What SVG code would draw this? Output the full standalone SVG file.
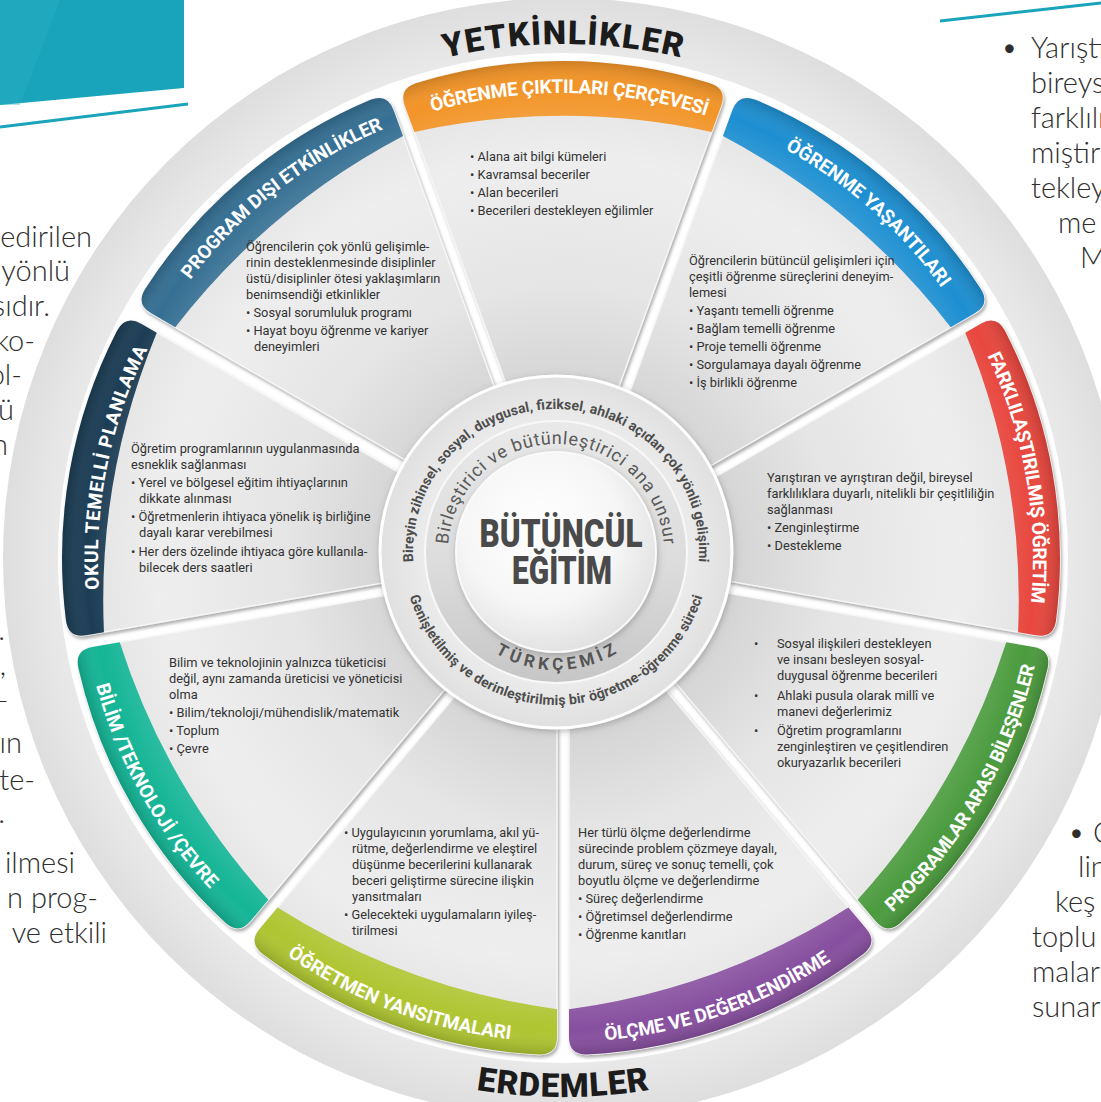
<svg xmlns="http://www.w3.org/2000/svg" xmlns:xlink="http://www.w3.org/1999/xlink" width="1101" height="1102" viewBox="0 0 1101 1102">
<defs>
<style>
.body{font-family:Roboto,"Liberation Sans",sans-serif;font-size:12.8px;fill:#333333}
.hdr{font-family:Roboto,"Liberation Sans",sans-serif;font-weight:700;font-size:19px;fill:#ffffff}
.rim{font-family:Roboto,"Liberation Sans",sans-serif;font-weight:900;font-size:33px;fill:#1c1c1c}
.hubb{font-family:Roboto,"Liberation Sans",sans-serif;font-weight:700;font-size:14px;fill:#4d4d4d}
.hubr{font-family:Roboto,"Liberation Sans",sans-serif;font-size:18px;fill:#5a5a5a}
.turk{font-family:Roboto,"Liberation Sans",sans-serif;font-weight:700;font-size:17px;fill:#555555}
.center{font-family:Roboto,"Liberation Sans",sans-serif;font-weight:900;font-size:38px;fill:#4a4a4a}
.page{font-family:Lato,"Open Sans","Liberation Sans",sans-serif;font-weight:300;font-size:29px;fill:#2e2e2e}
.teal{fill:#19a4bb}
.card{fill:url(#cardG);stroke:#f6f6f6;stroke-width:1.5}
</style>
<filter id="sh" x="-10%" y="-10%" width="125%" height="125%"><feDropShadow dx="1.5" dy="2.5" stdDeviation="1.8" flood-color="#6e6e6e" flood-opacity="0.55"/></filter>
<filter id="hubsh" x="-20%" y="-20%" width="140%" height="140%"><feDropShadow dx="1" dy="2" stdDeviation="3" flood-color="#777" flood-opacity="0.5"/></filter>
<radialGradient id="discG" cx="563" cy="558" r="560" gradientUnits="userSpaceOnUse"><stop offset="0.9" stop-color="#e9e9e9"/><stop offset="1" stop-color="#dedede"/></radialGradient>
<radialGradient id="cardG" cx="0" cy="0" r="497" gradientUnits="userSpaceOnUse"><stop offset="0.33" stop-color="#d3d3d3"/><stop offset="0.55" stop-color="#e5e5e5"/><stop offset="0.8" stop-color="#eeeeee"/><stop offset="0.95" stop-color="#e4e4e4"/></radialGradient>
<radialGradient id="bandSh" cx="0" cy="0" r="497" gradientUnits="userSpaceOnUse"><stop offset="0.88" stop-color="#fff" stop-opacity="0.12"/><stop offset="0.95" stop-color="#fff" stop-opacity="0"/><stop offset="1" stop-color="#000" stop-opacity="0.15"/></radialGradient>
<radialGradient id="hubO" cx="556" cy="552" r="176" gradientUnits="userSpaceOnUse"><stop offset="0.7" stop-color="#ededed"/><stop offset="1" stop-color="#e0e0e0"/></radialGradient>
<linearGradient id="hubM" x1="0" y1="0" x2="0" y2="1"><stop offset="0" stop-color="#e9e9e9"/><stop offset="0.55" stop-color="#dcdcdc"/><stop offset="1" stop-color="#c6c6c6"/></linearGradient>
<radialGradient id="hubC" cx="0.42" cy="0.38" r="0.65"><stop offset="0" stop-color="#ffffff"/><stop offset="0.6" stop-color="#f6f6f6"/><stop offset="1" stop-color="#e0e0e0"/></radialGradient>
<path id="cardShape" d="M-50.76,-157 L-158.18,-452.12 Q-164.33,-469.04 -147.1,-474.7 A497,497 0 0 1 147.1,-474.7 Q164.33,-469.04 158.18,-452.12 L50.76,-157 A165,165 0 0 0 -50.76,-157 Z"/>
<path id="band" d="M-148.68,-426.03 L-158.18,-452.12 Q-164.33,-469.04 -147.1,-474.7 A497,497 0 0 1 147.1,-474.7 Q164.33,-469.04 158.18,-452.12 L148.68,-426.03 A700,700 0 0 0 -148.68,-426.03 Z"/>
<path id="bandS" d="M-152.05,-435.28 L-158.18,-452.12 Q-164.33,-469.04 -147.1,-474.7 A497,497 0 0 1 147.1,-474.7 Q164.33,-469.04 158.18,-452.12 L152.05,-435.28 A700,700 0 0 0 -152.05,-435.28 Z"/>
<path id="cwH" d="M-196.52,-421.43 A465,465 0 0 1 196.52,-421.43"/>
<path id="cwH2" d="M-198.63,-425.97 A470,470 0 0 1 198.63,-425.97"/>
<path id="ccwH" d="M-204.55,438.65 A484,484 0 0 0 204.55,438.65"/>
<path id="yetP" d="M387.2,75 A514,514 0 0 1 738.8,75"/>
<path id="erdP" d="M423.5,1078.6 A539,539 0 0 0 702.5,1078.6"/>
<path id="hubTop" d="M415.17,576.83 A143,143 0 1 1 696.83,576.83"/>
<path id="hubBot" d="M406.34,583.81 A153,153 0 0 0 705.66,583.81"/>
<path id="innTop" d="M449.64,570.75 A108,108 0 1 1 662.36,570.75"/>
<path id="turkP" d="M472.56,635.44 A118,118 0 0 0 639.44,635.44"/>
</defs>

<rect width="1101" height="1102" fill="#ffffff"/>

<g id="page">
<polygon class="teal" points="0,0 184,0 184,88 0,105"/>
<polygon points="0,0 60,0 20,105 0,105" fill="#2fb3c6" opacity="0.35"/>
<line x1="0" y1="127" x2="188" y2="104" stroke="#19a4bb" stroke-width="3"/>
<line x1="940" y1="21" x2="1101" y2="3" stroke="#19a4bb" stroke-width="3"/>
<g text-anchor="end">
<text class="page" x="92" y="247">edirilen</text>
<text class="page" x="70" y="281">yönlü</text>
<text class="page" x="50" y="316">sıdır.</text>
<text class="page" x="35" y="351">ko-</text>
<text class="page" x="22" y="385">ol-</text>
<text class="page" x="14" y="420">ü</text>
<text class="page" x="8" y="455">n</text>
<text class="page" x="5" y="640">.</text>
<text class="page" x="6" y="675">,</text>
<text class="page" x="9" y="710">–</text>
<text class="page" x="22" y="753">ın</text>
<text class="page" x="35" y="790">te-</text>
<text class="page" x="5" y="823">.</text>
<text class="page" x="75" y="873">ilmesi</text>
<text class="page" x="98" y="908">n prog-</text>
<text class="page" x="107" y="943">ve etkili</text>
</g>
<text class="page" x="1001" y="58">•</text>
<text class="page" x="1031" y="58">Yarıştıran</text>
<text class="page" x="1031" y="93">bireysel</text>
<text class="page" x="1031" y="128">farklılık</text>
<text class="page" x="1031" y="163">miştir</text>
<text class="page" x="1031" y="198">tekleyen</text>
<text class="page" x="1058" y="233">me</text>
<text class="page" x="1080" y="268">M</text>
<text class="page" x="1068" y="843">•</text>
<text class="page" x="1093" y="843">O</text>
<text class="page" x="1078" y="877">lin</text>
<text class="page" x="1055" y="912">keş</text>
<text class="page" x="1032" y="947">toplu</text>
<text class="page" x="1032" y="982">malar</text>
<text class="page" x="1032" y="1017">sunar</text>
</g>

<g id="wheel">
<circle cx="563" cy="558" r="560" fill="url(#discG)"/>
<circle cx="563" cy="558" r="505" fill="#ffffff"/>
<g id="rim-labels">
<text class="rim"><textPath href="#yetP" startOffset="50%" text-anchor="middle" textLength="238">YETKİNLİKLER</textPath></text>
<text class="rim"><textPath href="#erdP" startOffset="50%" text-anchor="middle" textLength="174">ERDEMLER</textPath></text>
</g>
</g>

<g id="connectors"></g>

<g id="card-program-disi">
<g filter="url(#sh)"><use href="#cardShape" class="card" transform="translate(563,558) rotate(-40)"/></g>
<use href="#band" transform="translate(563,558) rotate(-40)" fill="#356f93"/>
<use href="#band" transform="translate(563,558) rotate(-40)" fill="url(#bandSh)"/>
<g transform="translate(563,558) rotate(-38)"><text class="hdr"><textPath href="#cwH" startOffset="50%" text-anchor="middle" textLength="248">PROGRAM DIŞI ETKİNLİKLER</textPath></text></g>
<text class="body" x="246" y="250.5">Öğrencilerin çok yönlü gelişimle-</text>
<text class="body" x="246" y="266.5">rinin desteklenmesinde disiplinler</text>
<text class="body" x="246" y="282.5">üstü/disiplinler ötesi yaklaşımların</text>
<text class="body" x="246" y="298.5">benimsendiği etkinlikler</text>
<text class="body" x="246" y="316.5">• Sosyal sorumluluk programı</text>
<text class="body" x="246" y="334.5">• Hayat boyu öğrenme ve kariyer</text>
<text class="body" x="254" y="350.5">deneyimleri</text>
</g>

<g id="card-ogrenme-ciktilari">
<g filter="url(#sh)"><use href="#cardShape" class="card" transform="translate(563,558)"/></g>
<use href="#band" transform="translate(563,558)" fill="#f29427"/>
<use href="#band" transform="translate(563,558)" fill="url(#bandSh)"/>
<g transform="translate(563,558) rotate(0.8)"><text class="hdr"><textPath href="#cwH" startOffset="50%" text-anchor="middle" textLength="278">ÖĞRENME ÇIKTILARI ÇERÇEVESİ</textPath></text></g>
<text class="body" x="470" y="161">• Alana ait bilgi kümeleri</text>
<text class="body" x="470" y="179">• Kavramsal beceriler</text>
<text class="body" x="470" y="197">• Alan becerileri</text>
<text class="body" x="470" y="215">• Becerileri destekleyen eğilimler</text>
</g>

<g id="card-ogrenme-yasantilari">
<g filter="url(#sh)"><use href="#cardShape" class="card" transform="translate(563,558) rotate(40)"/></g>
<use href="#band" transform="translate(563,558) rotate(40)" fill="#1d8fd1"/>
<use href="#band" transform="translate(563,558) rotate(40)" fill="url(#bandSh)"/>
<g transform="translate(563,558) rotate(41.5)"><text class="hdr"><textPath href="#cwH" startOffset="50%" text-anchor="middle" textLength="211">ÖĞRENME YAŞANTILARI</textPath></text></g>
<text class="body" x="689" y="265">Öğrencilerin bütüncül gelişimleri  için</text>
<text class="body" x="689" y="281">çeşitli öğrenme süreçlerini deneyim-</text>
<text class="body" x="689" y="297">lemesi</text>
<text class="body" x="689" y="315">• Yaşantı temelli öğrenme</text>
<text class="body" x="689" y="333">• Bağlam temelli öğrenme</text>
<text class="body" x="689" y="351">• Proje temelli öğrenme</text>
<text class="body" x="689" y="369">• Sorgulamaya dayalı öğrenme</text>
<text class="body" x="689" y="387">• İş birlikli öğrenme</text>
</g>

<g id="card-farklilastirilmis">
<g filter="url(#sh)"><use href="#cardShape" class="card" transform="translate(563,558) rotate(80)"/></g>
<use href="#bandS" transform="translate(563,558) rotate(80)" fill="#e8473e"/>
<use href="#bandS" transform="translate(563,558) rotate(80)" fill="url(#bandSh)"/>
<g transform="translate(563,558) rotate(80)"><text class="hdr"><textPath href="#cwH2" startOffset="50%" text-anchor="middle" textLength="254">FARKLILAŞTIRILMIŞ ÖĞRETİM</textPath></text></g>
<text class="body" x="767" y="482">Yarıştıran ve ayrıştıran değil, bireysel</text>
<text class="body" x="767" y="498">farklılıklara duyarlı, nitelikli bir çeşitliliğin</text>
<text class="body" x="767" y="514">sağlanması</text>
<text class="body" x="767" y="532">• Zenginleştirme</text>
<text class="body" x="767" y="550">• Destekleme</text>
</g>

<g id="card-programlar-arasi">
<g filter="url(#sh)"><use href="#cardShape" class="card" transform="translate(563,558) rotate(120)"/></g>
<use href="#band" transform="translate(563,558) rotate(120)" fill="#4b9b3e"/>
<use href="#band" transform="translate(563,558) rotate(120)" fill="url(#bandSh)"/>
<g transform="translate(563,558) rotate(-60)"><text class="hdr"><textPath href="#ccwH" startOffset="50%" text-anchor="middle" textLength="289">PROGRAMLAR ARASI BİLEŞENLER</textPath></text></g>
<text class="body" x="754" y="648">•</text>
<text class="body" x="777" y="648">Sosyal ilişkileri destekleyen</text>
<text class="body" x="777" y="664">ve insanı besleyen sosyal-</text>
<text class="body" x="777" y="680">duygusal öğrenme becerileri</text>
<text class="body" x="754" y="700">•</text>
<text class="body" x="777" y="700">Ahlaki pusula olarak millî ve</text>
<text class="body" x="777" y="716">manevi değerlerimiz</text>
<text class="body" x="754" y="735">•</text>
<text class="body" x="777" y="735">Öğretim programlarını</text>
<text class="body" x="777" y="751">zenginleştiren ve çeşitlendiren</text>
<text class="body" x="777" y="767">okuryazarlık becerileri</text>
</g>

<g id="card-olcme">
<g filter="url(#sh)"><use href="#cardShape" class="card" transform="translate(563,558) rotate(160)"/></g>
<use href="#band" transform="translate(563,558) rotate(160)" fill="#874f9f"/>
<use href="#band" transform="translate(563,558) rotate(160)" fill="url(#bandSh)"/>
<g transform="translate(563,558) rotate(-19.3)"><text class="hdr"><textPath href="#ccwH" startOffset="50%" text-anchor="middle" textLength="242">ÖLÇME VE DEĞERLENDİRME</textPath></text></g>
<text class="body" x="578" y="837">Her türlü ölçme değerlendirme</text>
<text class="body" x="578" y="853">sürecinde problem çözmeye dayalı,</text>
<text class="body" x="578" y="869">durum, süreç ve sonuç temelli, çok</text>
<text class="body" x="578" y="885">boyutlu ölçme ve değerlendirme</text>
<text class="body" x="578" y="903">• Süreç değerlendirme</text>
<text class="body" x="578" y="921">• Öğretimsel değerlendirme</text>
<text class="body" x="578" y="939">• Öğrenme kanıtları</text>
</g>

<g id="card-ogretmen">
<g filter="url(#sh)"><use href="#cardShape" class="card" transform="translate(563,558) rotate(200)"/></g>
<use href="#band" transform="translate(563,558) rotate(200)" fill="#afc531"/>
<use href="#band" transform="translate(563,558) rotate(200)" fill="url(#bandSh)"/>
<g transform="translate(563,558) rotate(20.5)"><text class="hdr"><textPath href="#ccwH" startOffset="50%" text-anchor="middle" textLength="241">ÖĞRETMEN YANSITMALARI</textPath></text></g>
<text class="body" x="344" y="837">• Uygulayıcının yorumlama, akıl yü-</text>
<text class="body" x="352" y="853">rütme, değerlendirme ve eleştirel</text>
<text class="body" x="352" y="869">düşünme becerilerini kullanarak</text>
<text class="body" x="352" y="885">beceri geliştirme sürecine ilişkin</text>
<text class="body" x="352" y="901">yansıtmaları</text>
<text class="body" x="344" y="919">• Gelecekteki uygulamaların iyileş-</text>
<text class="body" x="352" y="935">tirilmesi</text>
</g>

<g id="card-bilim">
<g filter="url(#sh)"><use href="#cardShape" class="card" transform="translate(563,558) rotate(240)"/></g>
<use href="#band" transform="translate(563,558) rotate(240)" fill="#14b596"/>
<use href="#band" transform="translate(563,558) rotate(240)" fill="url(#bandSh)"/>
<g transform="translate(563,558) rotate(60.8)"><text class="hdr"><textPath href="#ccwH" startOffset="50%" text-anchor="middle" textLength="236">BİLİM /TEKNOLOJİ /ÇEVRE</textPath></text></g>
<text class="body" x="169" y="667">Bilim ve teknolojinin yalnızca tüketicisi</text>
<text class="body" x="169" y="683">değil, aynı zamanda üreticisi ve yöneticisi</text>
<text class="body" x="169" y="699">olma</text>
<text class="body" x="169" y="717">• Bilim/teknoloji/mühendislik/matematik</text>
<text class="body" x="169" y="735">• Toplum</text>
<text class="body" x="169" y="753">• Çevre</text>
</g>

<g id="card-okul">
<g filter="url(#sh)"><use href="#cardShape" class="card" transform="translate(559,558) rotate(280)"/></g>
<use href="#bandS" transform="translate(559,558) rotate(280)" fill="#1c3d55"/>
<use href="#bandS" transform="translate(559,558) rotate(280)" fill="url(#bandSh)"/>
<g transform="translate(563,558) rotate(281.4)"><text class="hdr"><textPath href="#cwH" startOffset="50%" text-anchor="middle" textLength="248">OKUL TEMELLİ PLANLAMA</textPath></text></g>
<text class="body" x="131" y="453">Öğretim programlarının uygulanmasında</text>
<text class="body" x="131" y="469">esneklik sağlanması</text>
<text class="body" x="131" y="487">• Yerel ve bölgesel eğitim ihtiyaçlarının</text>
<text class="body" x="139" y="503">dikkate alınması</text>
<text class="body" x="131" y="521">• Öğretmenlerin ihtiyaca yönelik iş birliğine</text>
<text class="body" x="139" y="537">dayalı karar verebilmesi</text>
<text class="body" x="131" y="556">• Her ders özelinde ihtiyaca göre kullanıla-</text>
<text class="body" x="139" y="572">bilecek ders saatleri</text>
</g>

<g id="hub">
<circle cx="556" cy="552" r="176" fill="url(#hubO)" stroke="#ffffff" stroke-width="3" filter="url(#hubsh)"/>
<circle cx="556" cy="552" r="131" fill="url(#hubM)" stroke="#f8f8f8" stroke-width="2"/>
<circle cx="556" cy="552" r="100" fill="url(#hubC)" stroke="#fafafa" stroke-width="2" filter="url(#hubsh)"/>
<text class="hubb"><textPath href="#hubTop" startOffset="50%" text-anchor="middle" textLength="469">Bireyin zihinsel, sosyal, duygusal, fiziksel, ahlaki açıdan çok yönlü gelişimi</textPath></text>
<text class="hubb"><textPath href="#hubBot" startOffset="50%" text-anchor="middle" textLength="390">Genişletilmiş ve derinleştirilmiş bir öğretme-öğrenme süreci</textPath></text>
<text class="hubr"><textPath href="#innTop" startOffset="50%" text-anchor="middle" textLength="324">Birleştirici ve bütünleştirici ana unsur</textPath></text>
<text class="turk"><textPath href="#turkP" startOffset="50%" text-anchor="middle" textLength="128">TÜRKÇEMİZ</textPath></text>
<text class="center" x="561" y="547" text-anchor="middle" textLength="163" lengthAdjust="spacingAndGlyphs">BÜTÜNCÜL</text>
<text class="center" x="562" y="584" text-anchor="middle" textLength="100" lengthAdjust="spacingAndGlyphs">EĞİTİM</text>
</g>
</svg>
